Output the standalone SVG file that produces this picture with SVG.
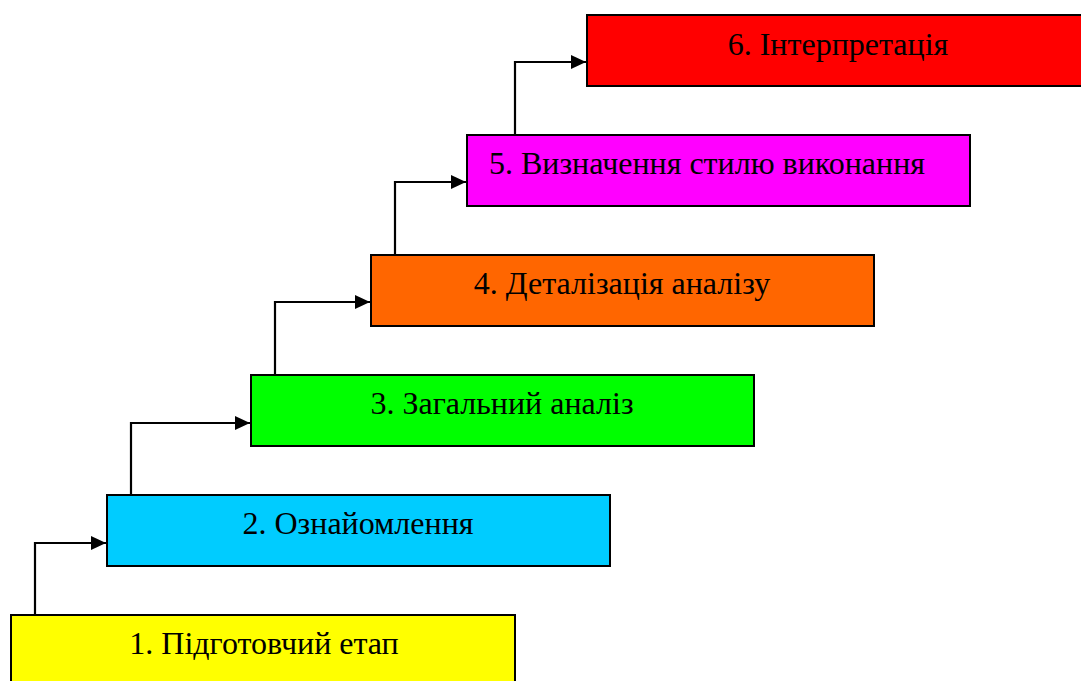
<svg xmlns="http://www.w3.org/2000/svg" width="1081" height="681" viewBox="0 0 1081 681">
<style>
.box{stroke:#000;stroke-width:2}
.lbl{font-family:"Liberation Serif","Times New Roman",serif;font-size:32px;fill:#000;text-anchor:middle}
.conn{fill:none;stroke:#000;stroke-width:2.2}
</style>
<defs>
<marker id="arr" viewBox="0 0 15 14" refX="15" refY="7" markerWidth="15" markerHeight="14" markerUnits="userSpaceOnUse" orient="auto">
<path d="M0,0 L15,7 L0,14 Z" fill="#000"/>
</marker>
</defs>
<rect width="1081" height="681" fill="#fff"/>
<g id="node1"><rect class="box" x="11" y="615" width="504" height="72" fill="#FFFF00"/><text class="lbl" x="264" y="654">1. Підготовчий етап</text></g>
<g id="node2"><rect class="box" x="107" y="495" width="503" height="71" fill="#00CCFF"/><text class="lbl" x="358" y="534">2. Ознайомлення</text></g>
<g id="node3"><rect class="box" x="251" y="375" width="503" height="71" fill="#00FF00"/><text class="lbl" x="502" y="414">3. Загальний аналіз</text></g>
<g id="node4"><rect class="box" x="371" y="255" width="503" height="71" fill="#FF6600"/><text class="lbl" x="622" y="294">4. Деталізація аналізу</text></g>
<g id="node5"><rect class="box" x="467" y="135" width="503" height="71" fill="#FF00FF"/><text class="lbl" x="707" y="174">5. Визначення стилю виконання</text></g>
<g id="node6"><rect class="box" x="587" y="15" width="500" height="71" fill="#FF0000"/><text class="lbl" x="838" y="55">6. Інтерпретація</text></g>
<g id="connectors">
<path class="conn" d="M35,614 V543 H106" marker-end="url(#arr)"/>
<path class="conn" d="M131,494 V423 H250" marker-end="url(#arr)"/>
<path class="conn" d="M275,374 V302 H370" marker-end="url(#arr)"/>
<path class="conn" d="M395,254 V182 H466" marker-end="url(#arr)"/>
<path class="conn" d="M515,134 V62 H586" marker-end="url(#arr)"/>
</g>
</svg>
